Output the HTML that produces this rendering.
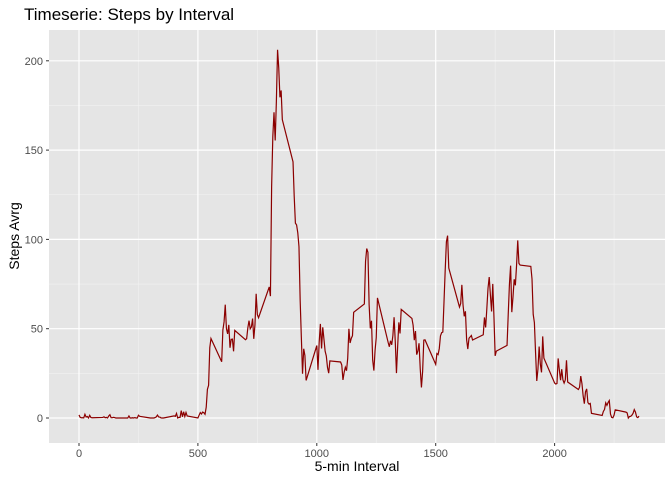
<!DOCTYPE html>
<html><head><meta charset="utf-8"><style>
body{margin:0;background:#fff;font-family:"Liberation Sans",sans-serif}
</style></head><body>
<svg id="chart" width="672" height="480" xmlns="http://www.w3.org/2000/svg">
<rect x="0" y="0" width="672" height="480" fill="#fff"/>
<rect id="panel" x="49" y="30" width="616" height="413" fill="#E5E5E5"/>
<g id="grid"></g>
<path id="line" fill="none" stroke="#8B0000" stroke-width="1.2"/>
<g id="axes"></g>
<text x="24" y="20" font-size="17" fill="#000">Timeserie: Steps by Interval</text>
<text x="357" y="471" font-size="14" text-anchor="middle" fill="#000">5-min Interval</text>
<text transform="translate(19,236) rotate(-90)" font-size="14" text-anchor="middle" fill="#000">Steps Avrg</text>
</svg>
<script>
const intervals=[0,5,10,15,20,25,30,35,40,45,50,55,100,105,110,115,120,125,130,135,140,145,150,155,200,205,210,215,220,225,230,235,240,245,250,255,300,305,310,315,320,325,330,335,340,345,350,355,400,405,410,415,420,425,430,435,440,445,450,455,500,505,510,515,520,525,530,535,540,545,550,555,600,605,610,615,620,625,630,635,640,645,650,655,700,705,710,715,720,725,730,735,740,745,750,755,800,805,810,815,820,825,830,835,840,845,850,855,900,905,910,915,920,925,930,935,940,945,950,955,1000,1005,1010,1015,1020,1025,1030,1035,1040,1045,1050,1055,1100,1105,1110,1115,1120,1125,1130,1135,1140,1145,1150,1155,1200,1205,1210,1215,1220,1225,1230,1235,1240,1245,1250,1255,1300,1305,1310,1315,1320,1325,1330,1335,1340,1345,1350,1355,1400,1405,1410,1415,1420,1425,1430,1435,1440,1445,1450,1455,1500,1505,1510,1515,1520,1525,1530,1535,1540,1545,1550,1555,1600,1605,1610,1615,1620,1625,1630,1635,1640,1645,1650,1655,1700,1705,1710,1715,1720,1725,1730,1735,1740,1745,1750,1755,1800,1805,1810,1815,1820,1825,1830,1835,1840,1845,1850,1855,1900,1905,1910,1915,1920,1925,1930,1935,1940,1945,1950,1955,2000,2005,2010,2015,2020,2025,2030,2035,2040,2045,2050,2055,2100,2105,2110,2115,2120,2125,2130,2135,2140,2145,2150,2155,2200,2205,2210,2215,2220,2225,2230,2235,2240,2245,2250,2255,2300,2305,2310,2315,2320,2325,2330,2335,2340,2345,2350,2355];
const steps=[1.72,0.34,0.13,0.15,0.08,2.09,0.53,0.87,0,1.47,0.3,0.13,0.32,0.68,0.15,0.34,0,1.11,1.83,0.17,0.17,0.38,0.26,0,0,0,1.13,0,0,0.13,0,0.23,0,0,1.55,0.94,0,0,0,0,0.21,0.62,1.62,0.58,0.49,0.08,0,0,1.19,0.94,2.57,0,0.34,0.36,4.11,0.66,3.49,0.83,3.11,1.11,0,1.57,3,2.25,3.32,2.96,2.09,6.06,16.02,18.34,39.45,44.49,31.49,49.26,53.77,63.45,49.96,47.08,52.15,39.34,44.02,44.17,37.36,49.04,43.81,44.38,50.51,54.51,49.92,50.98,55.68,44.32,52.26,69.55,57.85,56.15,73.38,68.21,129.43,157.53,171.15,155.4,177.3,206.17,195.92,179.57,183.4,167.02,143.45,124.04,109.11,108.11,103.72,95.96,66.21,45.23,24.79,38.75,34.98,21.06,40.57,26.98,42.42,52.66,38.92,50.79,44.28,37.42,34.7,28.34,25.09,31.94,31.36,29.68,21.32,25.55,28.38,26.47,33.43,49.98,42.04,44.6,46.04,59.19,63.87,87.7,94.85,92.77,63.4,50.17,54.47,32.42,26.53,37.74,45.06,67.28,42.34,39.89,43.26,40.98,46.25,56.43,42.75,25.13,39.96,53.55,47.32,60.81,55.75,51.96,43.58,48.7,35.47,37.55,41.85,27.51,17.11,26.08,43.62,43.77,30.02,36.08,35.49,38.85,45.96,47.75,48.13,65.32,82.91,98.66,102.11,83.96,62.13,64.13,74.55,63.17,56.91,59.77,43.87,38.57,44.66,45.45,46.21,43.68,46.62,56.3,50.72,61.23,72.72,78.94,68.94,59.66,75.09,56.51,34.77,37.45,40.68,58.02,74.7,85.32,59.26,67.77,77.7,74.25,85.34,99.45,86.58,85.6,84.87,77.83,58.04,53.36,36.32,20.72,27.4,40.02,30.21,25.55,45.66,33.53,19.62,19.02,19.34,33.34,26.81,21.17,27.3,21.34,19.55,21.32,32.3,20.15,15.94,17.23,23.45,19.25,12.45,8.02,14.66,16.3,8.68,7.79,8.13,2.62,1.45,3.68,4.81,8.51,7.08,8.7,9.75,2.21,0.32,0.11,1.6,4.6,3.3,2.85,0,0.83,0.96,1.58,2.6,4.7,3.3,0.64,0.23,1.08];
const xTicks=[0,500,1000,1500,2000];
const yTicks=[0,50,100,150,200];
const xMinor=[250,750,1250,1750,2250];
const yMinor=[25,75,125,175];
const X=v=>79+v*0.2378;
const Y=v=>418-v*1.786;
const NS="http://www.w3.org/2000/svg";
const grid=document.getElementById('grid'),axes=document.getElementById('axes');
function ln(p,x1,y1,x2,y2,c,w,name){const l=document.createElementNS(NS,'line');
l.setAttribute('x1',x1);l.setAttribute('y1',y1);l.setAttribute('x2',x2);l.setAttribute('y2',y2);
l.setAttribute('stroke',c);l.setAttribute('stroke-width',w);


p.appendChild(l);}
function tx(p,x,y,s,anchor,name){const t=document.createElementNS(NS,'text');
t.setAttribute('x',x);t.setAttribute('y',y);t.setAttribute('font-size','11');t.setAttribute('fill','#4D4D4D');t.setAttribute('text-anchor',anchor);t.textContent=s;


p.appendChild(t);}
xMinor.forEach(v=>ln(grid,X(v),30,X(v),443,'#F2F2F2',0.6,'x-minor-gridline'));
yMinor.forEach(v=>ln(grid,49,Y(v),665,Y(v),'#F2F2F2',0.6,'y-minor-gridline'));
xTicks.forEach(v=>{ln(grid,X(v),30,X(v),443,'#fff',1.2,'x-gridline');ln(axes,X(v),443,X(v),446,'#333',1,'x-tick');tx(axes,X(v),457,String(v),'middle','x-tick-label');});
yTicks.forEach(v=>{ln(grid,49,Y(v),665,Y(v),'#fff',1.2,'y-gridline');ln(axes,46,Y(v),49,Y(v),'#333',1,'y-tick');tx(axes,43,Y(v)+4,String(v),'end','y-tick-label');});
document.getElementById('line').setAttribute('d',intervals.map((v,i)=>(i?'L':'M')+X(v).toFixed(2)+','+Y(steps[i]).toFixed(2)).join(''));
</script>
</body></html>
